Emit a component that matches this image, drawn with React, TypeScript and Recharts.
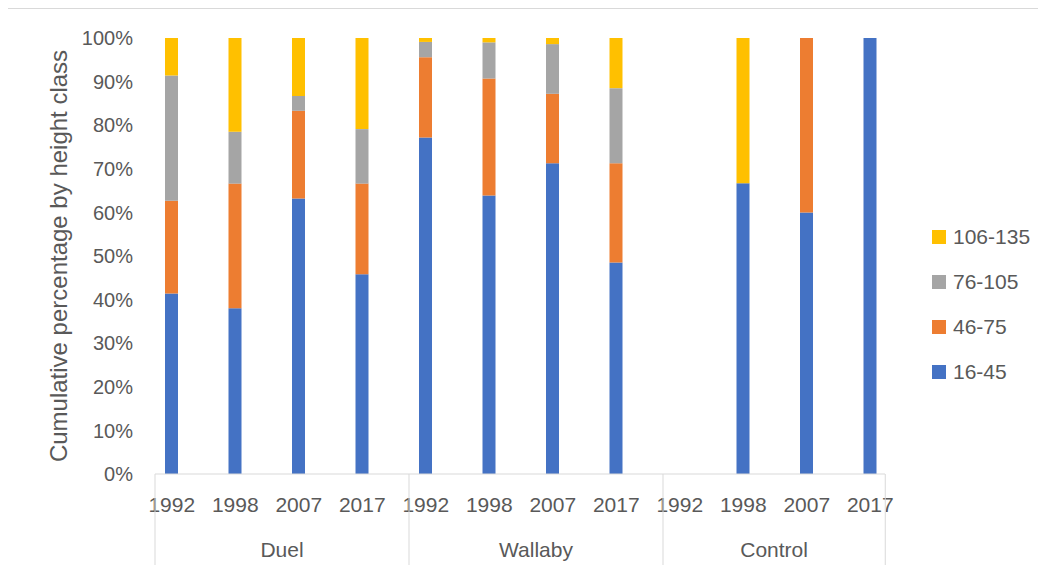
import React from 'react';
import { BarChart, Bar, XAxis, YAxis } from 'recharts';

const groups = ['Duel', 'Wallaby', 'Control'];
const years = ['1992', '1998', '2007', '2017'];
const yTicks = [0, 10, 20, 30, 40, 50, 60, 70, 80, 90, 100];

// percentage of stems per height class (cm), one value per group/year
const h16_45 = [41.4, 38.0, 63.2, 45.8, 77.2, 63.9, 71.3, 48.5, 0, 66.7, 60.0, 100];
const h46_75 = [21.3, 28.6, 20.1, 20.8, 18.4, 26.8, 15.9, 22.8, 0, 0, 40.0, 0];
const h76_105 = [28.7, 11.9, 3.4, 12.5, 3.5, 8.3, 11.4, 17.2, 0, 0, 0, 0];
const h106_135 = [8.6, 21.5, 13.3, 20.9, 0.9, 1.0, 1.4, 11.5, 0, 33.3, 0, 0];

const series = [
  { key: 'c16_45', name: '16-45', color: '#4472C4', values: h16_45 },
  { key: 'c46_75', name: '46-75', color: '#ED7D31', values: h46_75 },
  { key: 'c76_105', name: '76-105', color: '#A5A5A5', values: h76_105 },
  { key: 'c106_135', name: '106-135', color: '#FFC000', values: h106_135 },
];

const data = groups.flatMap((g, gi) =>
  years.map((y, yi) => {
    const i = gi * years.length + yi;
    const row: any = { id: `${g} ${y}`, group: g, year: y };
    series.forEach((s) => {
      row[s.key] = s.values[i];
    });
    return row;
  }),
);

const FONT = '"Liberation Sans", Arial, sans-serif';
const TEXT = '#595959';
const LINE = '#D9D9D9';
const BAND = 63.5;

function CategoryTick(props: any) {
  const { x, y, index } = props;
  const row = data[index];
  if (!row) return null;
  const perGroup = years.length;
  const pos = index % perGroup;
  const isLastGroup = Math.floor(index / perGroup) === groups.length - 1;
  const top = y - 8; // axis line
  const parts: React.ReactNode[] = [];
  parts.push(
    <text key="yr" x={x} y={top + 38} textAnchor="middle" fontSize={21} fill={TEXT} fontFamily={FONT}>
      {row.year}
    </text>,
  );
  if (pos === 0) {
    const left = x - 16.75;
    const right = isLastGroup ? x + 3 * BAND + 15 : x + 4 * BAND - 16.75;
    parts.push(<line key="sep" x1={left} x2={left} y1={top} y2={top + 94} stroke={LINE} />);
    parts.push(
      <text key="grp" x={(left + right) / 2} y={top + 83} textAnchor="middle" fontSize={21} fill={TEXT} fontFamily={FONT}>
        {row.group}
      </text>,
    );
  }
  if (index === data.length - 1) {
    parts.push(<line key="end" x1={x + 15} x2={x + 15} y1={top} y2={top + 94} stroke={LINE} />);
  }
  return <g>{parts}</g>;
}

function AxisTitle(props: any) {
  const { viewBox } = props;
  const cx = viewBox.x + 58;
  const cy = viewBox.y + viewBox.height / 2;
  return (
    <text
      x={cx}
      y={cy}
      transform={`rotate(-90 ${cx} ${cy})`}
      textAnchor="middle"
      dominantBaseline="central"
      fontSize={24}
      fill={TEXT}
      fontFamily={FONT}
    >
      Cumulative percentage by height class
    </text>
  );
}

export default function App() {
  const legendItems = [...series].reverse();
  return (
    <div style={{ position: 'relative', width: 1046, height: 573, margin: -8, background: '#fff', overflow: 'hidden' }}>
      <div style={{ position: 'absolute', left: 5, top: 8, width: 1041, height: 1, background: LINE }} />
      <div style={{ position: 'absolute', left: 5, top: 8, width: 1, height: 565, background: LINE }} />
      <BarChart
        width={1046}
        height={573}
        data={data}
        margin={{ top: 38, right: 161, bottom: 0, left: 0 }}
        style={{ position: 'absolute', left: 0, top: 0 }}
      >
        <XAxis
          dataKey="id"
          interval={0}
          height={99}
          padding={{ left: -15, right: -17 }}
          axisLine={{ stroke: LINE }}
          tickLine={false}
          tick={<CategoryTick />}
        />
        <YAxis
          width={155}
          domain={[0, 100]}
          ticks={yTicks}
          tickFormatter={(v) => `${v}%`}
          axisLine={false}
          tickLine={false}
          tickSize={0}
          tickMargin={22}
          tick={{ fontSize: 20, fill: TEXT, fontFamily: FONT }}
          label={<AxisTitle />}
        />
        {series.map((s) => (
          <Bar key={s.key} dataKey={s.key} name={s.name} stackId="a" fill={s.color} barSize={13} isAnimationActive={false} />
        ))}
      </BarChart>
      <div style={{ position: 'absolute', left: 932, top: 214, fontFamily: FONT, color: TEXT, fontSize: 21 }}>
        {legendItems.map((s) => (
          <div key={s.key} style={{ display: 'flex', alignItems: 'center', height: 45 }}>
            <span style={{ width: 14, height: 14, background: s.color, display: 'inline-block', marginRight: 7 }} />
            <span>{s.name}</span>
          </div>
        ))}
      </div>
    </div>
  );
}
